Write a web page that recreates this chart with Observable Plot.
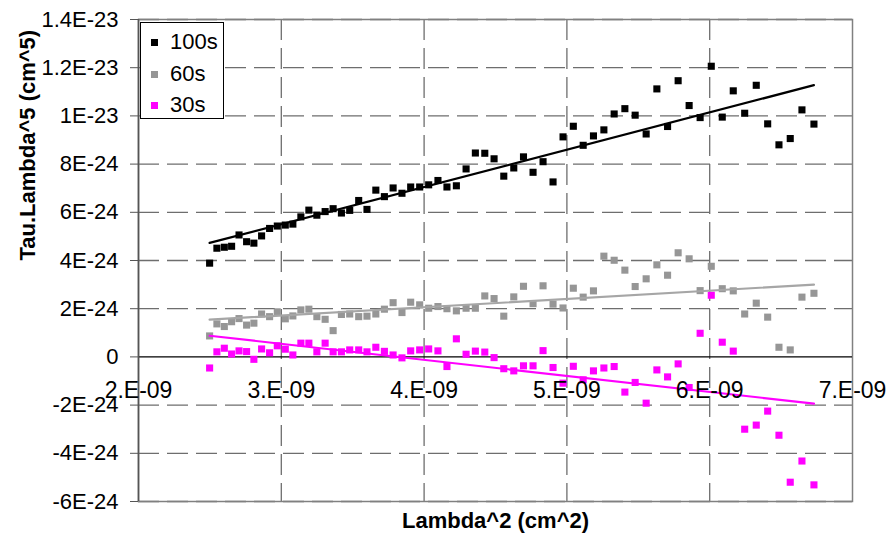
<!DOCTYPE html>
<html>
<head>
<meta charset="utf-8">
<script src="https://cdn.jsdelivr.net/npm/d3@7"></script>
<script src="https://cdn.jsdelivr.net/npm/@observablehq/plot@0.6"></script>
<style>
  html, body { margin: 0; padding: 0; background: #fff; }
  #wrap { position: relative; width: 890px; height: 546px; font-family: Arial, "Liberation Sans", sans-serif; }
  #legend { position: absolute; left: 140px; top: 22px; width: 84px; height: 97px; border: 1px solid #000; background: #fff; box-sizing: border-box; }
  .item { position: absolute; left: 0; height: 30px; display: flex; align-items: center; font-size: 22px; color: #000; }
  .sw { width: 7px; height: 7px; margin-left: 10px; margin-right: 12px; }
</style>
</head>
<body>
<div id="wrap"></div>
<script>
// Lambda^2 values (units of 1e-9 cm^2), shared by all three series
const lambda2_e9 = [2.498,2.549,2.601,2.652,2.704,2.757,2.808,2.862,2.918,2.972,3.028,3.081,3.137,3.193,3.249,3.307,3.363,3.421,3.479,3.542,3.600,3.662,3.722,3.783,3.845,3.906,3.969,4.032,4.097,4.160,4.226,4.294,4.359,4.425,4.490,4.558,4.628,4.696,4.763,4.833,4.903,4.973,5.045,5.114,5.186,5.259,5.331,5.406,5.478,5.555,5.630,5.705,5.779,5.856,5.933,6.011,6.088,6.165,6.245,6.326,6.406,6.485,6.564,6.646,6.730];
// Tau.Lambda^5 values (units of 1e-24 cm^5)
const tau100s_e24 = [3.89,4.51,4.55,4.59,5.06,4.78,4.72,5.02,5.33,5.43,5.47,5.51,5.81,6.09,5.88,6.03,6.15,5.97,6.08,6.49,6.12,6.92,6.65,7.01,6.79,7.05,7.05,7.14,7.32,7.05,7.10,7.80,8.46,8.45,8.22,7.50,7.84,8.30,7.66,8.10,7.26,9.13,9.57,8.78,9.17,9.42,10.08,10.30,10.03,9.25,11.12,9.56,11.46,10.43,9.93,12.06,9.95,11.04,10.11,11.27,9.67,8.80,9.06,10.25,9.66];
const tau60s_e24 = [0.87,1.37,1.26,1.46,1.59,1.32,1.40,1.78,1.67,1.87,1.58,1.70,1.95,1.98,1.67,1.56,1.09,1.76,1.78,1.67,1.69,1.78,1.98,2.25,1.84,2.27,2.16,2.02,2.09,2.00,1.91,2.02,2.02,2.53,2.42,1.69,2.49,2.93,2.21,2.95,2.19,2.03,2.85,2.48,2.74,4.18,4.01,3.60,2.92,3.24,3.82,3.39,4.32,4.07,2.75,3.76,2.83,2.74,1.78,2.23,1.65,0.40,0.29,2.48,2.64];
const tau30s_e24 = [-0.46,0.21,0.36,0.12,0.25,0.22,-0.10,0.33,0.17,0.46,0.32,0.08,0.57,0.57,0.21,0.57,0.21,0.21,0.29,0.29,0.21,0.40,0.23,0.08,-0.04,0.25,0.29,0.33,0.25,-0.40,0.75,0.11,0.24,0.20,-0.03,-0.49,-0.58,-0.37,-0.37,0.26,-0.44,-1.09,-0.39,-0.95,-0.58,-0.46,-0.40,-1.46,-1.06,-1.92,-0.54,-0.83,-0.29,-1.27,0.98,2.56,0.61,0.24,-3.00,-2.83,-2.25,-3.25,-5.20,-4.32,-5.31];

const seriesNames = ["100s", "60s", "30s"];
const seriesColors = ["#000000", "#969696", "#ff00ff"];
const lineColors = ["#000000", "#a6a6a6", "#ff00ff"];

const xTicks = [2e-9, 3e-9, 4e-9, 5e-9, 6e-9, 7e-9];
const xTickLabels = ["2.E-09", "3.E-09", "4.E-09", "5.E-09", "6.E-09", "7.E-09"];
const yTicks = [-6e-24, -4e-24, -2e-24, 0, 2e-24, 4e-24, 6e-24, 8e-24, 1e-23, 1.2e-23, 1.4e-23];
const yTickLabels = ["-6E-24", "-4E-24", "-2E-24", "0", "2E-24", "4E-24", "6E-24", "8E-24", "1E-23", "1.2E-23", "1.4E-23"];

const xTitle = "Lambda^2 (cm^2)";
const yTitle = "Tau.Lambda^5 (cm^5)";

const allSeries = [tau100s_e24, tau60s_e24, tau30s_e24];
const rows = [];
allSeries.forEach((vals, s) => {
  vals.forEach((v, i) => rows.push({series: seriesNames[s], x: lambda2_e9[i] * 1e-9, y: v * 1e-24}));
});

const colorScale = {domain: seriesNames, range: seriesColors};

const chart = Plot.plot({
  width: 890,
  height: 546,
  marginLeft: 138,
  marginRight: 38,
  marginTop: 19,
  marginBottom: 45,
  style: {fontFamily: "Arial, 'Liberation Sans', sans-serif", color: "#000", background: "#fff"},
  x: {domain: [2e-9, 7e-9]},
  y: {domain: [-6e-24, 1.4e-23]},
  marks: [
    Plot.gridX(xTicks.slice(1, -1), {stroke: "#6e6e6e", strokeOpacity: 1, strokeWidth: 1.3, strokeDasharray: "21,8"}),
    Plot.gridY(yTicks.filter(d => d !== 0), {stroke: "#6e6e6e", strokeOpacity: 1, strokeWidth: 1.3, strokeDasharray: "21,8"}),
    Plot.frame({stroke: "#808080", strokeWidth: 1.5}),
    Plot.ruleY([0], {stroke: "#000", strokeWidth: 1.2}),
    Plot.ruleX([2e-9], {stroke: "#555", strokeWidth: 1.6}),
    Plot.axisY(yTicks, {
      tickSize: 8, tickPadding: 12, stroke: "#555", fontSize: 22,
      tickFormat: d => yTickLabels[yTicks.indexOf(d)], label: null
    }),
    Plot.axisX({ticks: [], label: null, tickSize: 0}),
    Plot.dot(rows, {x: "x", y: "y", fill: d => d.series, symbol: "square", r: 4, stroke: null}),
    ...seriesNames.map((name, s) =>
      Plot.linearRegressionY(rows.filter(d => d.series === name), {x: "x", y: "y", stroke: lineColors[s], strokeWidth: 2.2, ci: 0})
    ),
    Plot.text(xTicks, {x: d => d, y: d => 0, text: (d, i) => xTickLabels[i], fontSize: 23, dy: 34, lineAnchor: "middle", textAnchor: "middle", fill: "#000"}),
    Plot.text([yTitle], {frameAnchor: "left", dx: -111, rotate: -90, fontSize: 22, fontWeight: "bold", fill: "#000"}),
    Plot.text([xTitle], {frameAnchor: "bottom", dy: 26, fontSize: 22, fontWeight: "bold", fill: "#000"})
  ],
  color: colorScale
});

const wrap = document.getElementById("wrap");
wrap.appendChild(chart);

const legend = document.createElement("div");
legend.id = "legend";
const itemTops = [4, 36, 67];
seriesNames.forEach((name, s) => {
  const item = document.createElement("div");
  item.className = "item";
  item.style.top = itemTops[s] + "px";
  const sw = document.createElement("span");
  sw.className = "sw";
  sw.style.background = seriesColors[s];
  const label = document.createElement("span");
  label.textContent = name;
  item.appendChild(sw);
  item.appendChild(label);
  legend.appendChild(item);
});
wrap.appendChild(legend);
</script>
</body>
</html>
